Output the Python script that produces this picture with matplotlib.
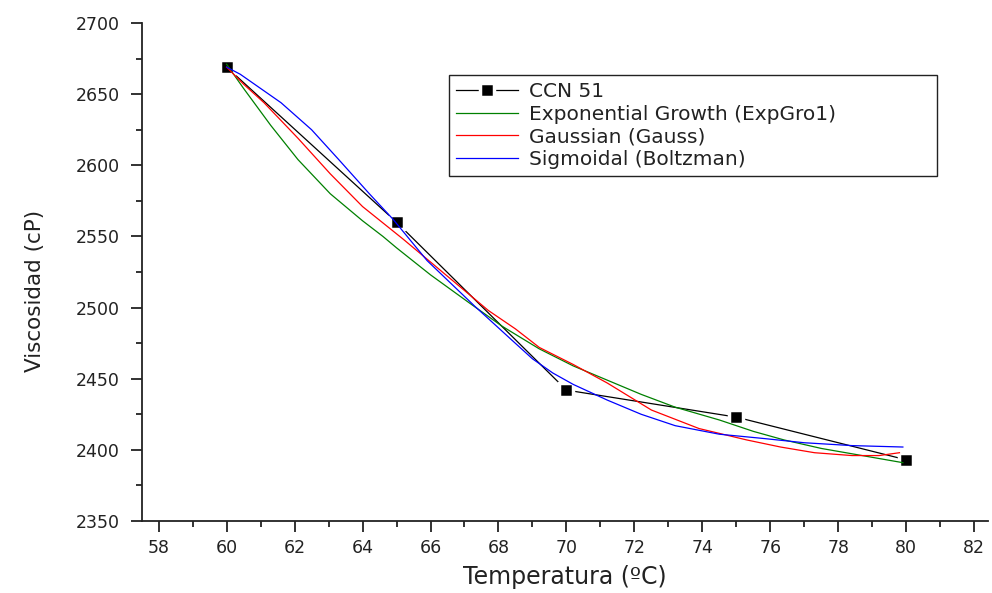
import matplotlib
matplotlib.use("Agg")
import matplotlib.pyplot as plt
from matplotlib.ticker import MultipleLocator

# datos experimentales
temp = [60, 65, 70, 75, 80]
visc = [2669, 2560, 2442, 2423, 2393]

# curvas de ajuste
exp_x = [60, 60.5, 61.3, 62.1, 63.05, 64.0, 64.6, 65.0, 66.0, 67.1, 68.1, 69.2, 70.2, 71.2, 72.2,
         73.2, 74.5, 75.5, 76.4, 77.5, 78.7, 79.9]
exp_y = [2671, 2654, 2628, 2604, 2580, 2561, 2550, 2542, 2523, 2504, 2487, 2471, 2459, 2449, 2439,
         2430, 2421, 2413, 2407, 2401, 2396, 2391]

gau_x = [60, 60.5, 61.1, 61.5, 62.1, 63.05, 64.0, 65.2, 66.3, 67.7, 68.5, 69.2, 70.2, 71.2, 72.5,
         73.9, 75.3, 76.3, 77.3, 78.4, 79.2, 79.8]
gau_y = [2669, 2657, 2644, 2634, 2619, 2594, 2571, 2548, 2526, 2498, 2485, 2472, 2460, 2447, 2428,
         2415, 2407, 2402, 2398, 2396, 2396, 2398]

bol_x = [60, 60.4, 61.6, 62.5, 63.3, 64.2, 64.9, 65.9, 67.3, 68.4, 69.0, 69.6, 70.2, 71.2, 72.2,
         73.2, 74.5, 75.8, 77.0, 78.4, 79.9]
bol_y = [2669, 2664, 2644, 2625, 2604, 2580, 2562, 2533, 2501, 2477, 2464, 2454, 2446, 2435, 2425,
         2417, 2411, 2408, 2405, 2403, 2402]

fig = plt.figure(figsize=(9.92, 5.93), dpi=100)
ax = fig.add_axes([0.1428, 0.1214, 0.853, 0.8398])

ax.plot(temp, visc, color="black", lw=0.9, marker="s", ms=10,
        mfc="black", mec="white", mew=2.5, label="CCN 51", zorder=2)
ax.plot(exp_x, exp_y, color="#008000", lw=0.9, label="Exponential Growth (ExpGro1)", zorder=3)
ax.plot(gau_x, gau_y, color="#ff0000", lw=0.9, label="Gaussian (Gauss)", zorder=3)
ax.plot(bol_x, bol_y, color="#0000ff", lw=0.9, label="Sigmoidal (Boltzman)", zorder=3)

ax.set_xlim(57.5, 82.4)
ax.set_ylim(2350, 2700)
ax.xaxis.set_major_locator(MultipleLocator(2))
ax.xaxis.set_minor_locator(MultipleLocator(1))
ax.yaxis.set_major_locator(MultipleLocator(50))
ax.yaxis.set_minor_locator(MultipleLocator(25))

for s in ["top", "right"]:
    ax.spines[s].set_visible(False)
for s in ["left", "bottom"]:
    ax.spines[s].set_linewidth(1.3)
    ax.spines[s].set_color("#222222")

ax.tick_params(which="major", direction="out", length=8, width=1.3, color="#222222",
               labelsize=12.5, labelcolor="#222222")
ax.tick_params(axis="y", which="major", pad=8)
ax.tick_params(axis="x", which="major", pad=5)
ax.tick_params(which="minor", direction="out", length=4.5, width=1.3, color="#222222")

ax.set_xlabel("Temperatura (ºC)", fontsize=17, color="#222222", labelpad=6)
ax.set_ylabel("Viscosidad (cP)", fontsize=15.5, color="#222222")
ax.yaxis.set_label_coords(-0.114, 0.462)

leg = ax.legend(loc="upper left",
                bbox_to_anchor=(449 / 992, 1 - 186 / 593, (937 - 449) / 992, (186 - 75) / 593),
                bbox_transform=fig.transFigure, mode="expand", borderaxespad=0,
                fontsize=14.5, handlelength=3.1, handletextpad=0.5, labelspacing=0.18,
                fancybox=False, framealpha=1, edgecolor="#222222", borderpad=0.35)
leg.get_frame().set_linewidth(1.0)
for t in leg.get_texts():
    t.set_color("#222222")

fig.savefig("out.png", dpi=100)
